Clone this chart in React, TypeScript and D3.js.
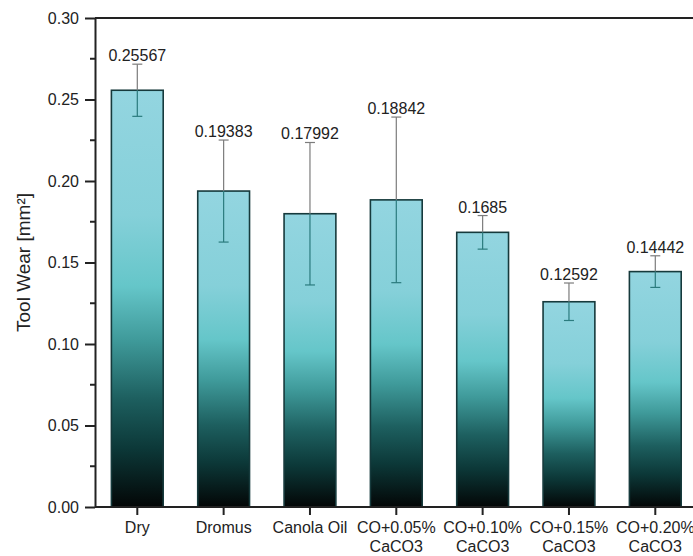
import React, { useRef, useEffect } from "react";
import * as d3 from "d3";

const categories = [
  "Dry",
  "Dromus",
  "Canola Oil",
  "CO+0.05%\nCaCO3",
  "CO+0.10%\nCaCO3",
  "CO+0.15%\nCaCO3",
  "CO+0.20%\nCaCO3",
];
const wear = [0.25567, 0.19383, 0.17992, 0.18842, 0.1685, 0.12592, 0.14442];
const wearErr = [0.016, 0.0313, 0.0437, 0.0508, 0.0103, 0.0115, 0.0097];
const yTicks = [0, 0.05, 0.1, 0.15, 0.2, 0.25, 0.3];
const yMinorTicks = [0.025, 0.075, 0.125, 0.175, 0.225, 0.275];

const FONT = "'Liberation Sans', Arial, sans-serif";

export default function App() {
  const svgRef = useRef<SVGSVGElement>(null);

  useEffect(() => {
    const W = 693;
    const H = 556;
    const left = 95;
    const top = 18;
    const bottom = 507;
    const right = 697.6;

    const root = d3.select(svgRef.current);
    root.selectChildren().remove();
    const svg = root.attr("width", W).attr("height", H);

    const defs = svg.append("defs");
    const grad = defs
      .append("linearGradient")
      .attr("id", "barGrad")
      .attr("x1", 0)
      .attr("y1", 0)
      .attr("x2", 0)
      .attr("y2", 1);
    const stops: [number, string][] = [
      [0, "#93d5e0"],
      [0.3, "#85d0d9"],
      [0.47, "#65c6c9"],
      [0.6, "#3f9a9a"],
      [0.74, "#1d5f5f"],
      [0.86, "#0c3838"],
      [1, "#030606"],
    ];
    stops.forEach(([o, c]) => grad.append("stop").attr("offset", o).attr("stop-color", c));

    const x = d3
      .scaleBand<string>()
      .domain(categories)
      .range([left, right])
      .paddingInner(0.4)
      .paddingOuter(0.19);
    const y = d3.scaleLinear().domain([0, 0.3]).range([bottom, top]);

    // bars
    svg
      .append("g")
      .selectAll("rect")
      .data(wear)
      .join("rect")
      .attr("x", (d, i) => x(categories[i])!)
      .attr("y", (d) => y(d))
      .attr("width", x.bandwidth())
      .attr("height", (d) => y(0) - y(d))
      .attr("fill", "url(#barGrad)")
      .attr("stroke", "#163a3c")
      .attr("stroke-width", 1.6);

    // error bars
    const eb = svg.append("g");
    wear.forEach((v, i) => {
      const cx = x(categories[i])! + x.bandwidth() / 2;
      const hi = y(v + wearErr[i]);
      const lo = y(v - wearErr[i]);
      const barTop = y(v);
      eb.append("line")
        .attr("x1", cx).attr("x2", cx)
        .attr("y1", hi).attr("y2", barTop)
        .attr("stroke", "#7c7c7c").attr("stroke-width", 1.2);
      eb.append("line")
        .attr("x1", cx).attr("x2", cx)
        .attr("y1", barTop).attr("y2", lo)
        .attr("stroke", "#2b7b7e").attr("stroke-width", 1.2);
      eb.append("line")
        .attr("x1", cx - 5).attr("x2", cx + 5)
        .attr("y1", hi).attr("y2", hi)
        .attr("stroke", "#7c7c7c").attr("stroke-width", 1.2);
      eb.append("line")
        .attr("x1", cx - 5).attr("x2", cx + 5)
        .attr("y1", lo).attr("y2", lo)
        .attr("stroke", "#2b7b7e").attr("stroke-width", 1.2);
      eb.append("text")
        .attr("x", cx)
        .attr("y", hi - 3)
        .attr("text-anchor", "middle")
        .attr("font-family", FONT)
        .attr("font-size", 16)
        .attr("fill", "#222")
        .text(String(v));
    });

    // y axis
    const yAxis = svg
      .append("g")
      .attr("transform", `translate(${left},0)`)
      .call(
        d3.axisLeft(y)
          .tickValues(yTicks)
          .tickFormat(d3.format(".2f") as any)
          .tickSize(10)
          .tickSizeOuter(0)
          .tickPadding(6)
      );
    yAxis.selectAll("path,line").attr("stroke", "#222").attr("stroke-width", 2);
    yAxis.selectAll("text").attr("font-family", FONT).attr("font-size", 16).attr("fill", "#222");
    svg
      .append("g")
      .selectAll("line")
      .data(yMinorTicks)
      .join("line")
      .attr("x1", left - 5)
      .attr("x2", left)
      .attr("y1", (d) => y(d))
      .attr("y2", (d) => y(d))
      .attr("stroke", "#222")
      .attr("stroke-width", 2);

    // x axis
    const xAxis = svg
      .append("g")
      .attr("transform", `translate(0,${bottom})`)
      .call(d3.axisBottom(x).tickSize(8).tickSizeOuter(0).tickFormat(() => ""));
    xAxis.selectAll("path,line").attr("stroke", "#222").attr("stroke-width", 2);
    xAxis.select("path").attr("d", `M${left},0H${W}`);
    categories.forEach((c) => {
      const cx = x(c)! + x.bandwidth() / 2;
      const t = svg
        .append("text")
        .attr("text-anchor", "middle")
        .attr("font-family", FONT)
        .attr("font-size", 16)
        .attr("fill", "#222");
      c.split("\n").forEach((line, k) => {
        t.append("tspan").attr("x", cx).attr("y", 533 + k * 19).text(line);
      });
    });

    // top frame line
    svg
      .append("line")
      .attr("x1", left)
      .attr("x2", W)
      .attr("y1", top)
      .attr("y2", top)
      .attr("stroke", "#222")
      .attr("stroke-width", 2);

    // y label
    svg
      .append("text")
      .attr("transform", `translate(30,${(top + bottom) / 2}) rotate(-90)`)
      .attr("text-anchor", "middle")
      .attr("font-family", FONT)
      .attr("font-size", 19)
      .attr("fill", "#222")
      .text("Tool Wear [mm²]");
  }, []);

  return (
    <svg
      ref={svgRef}
      style={{ position: "absolute", left: 0, top: 0, background: "#fff" }}
    ></svg>
  );
}
